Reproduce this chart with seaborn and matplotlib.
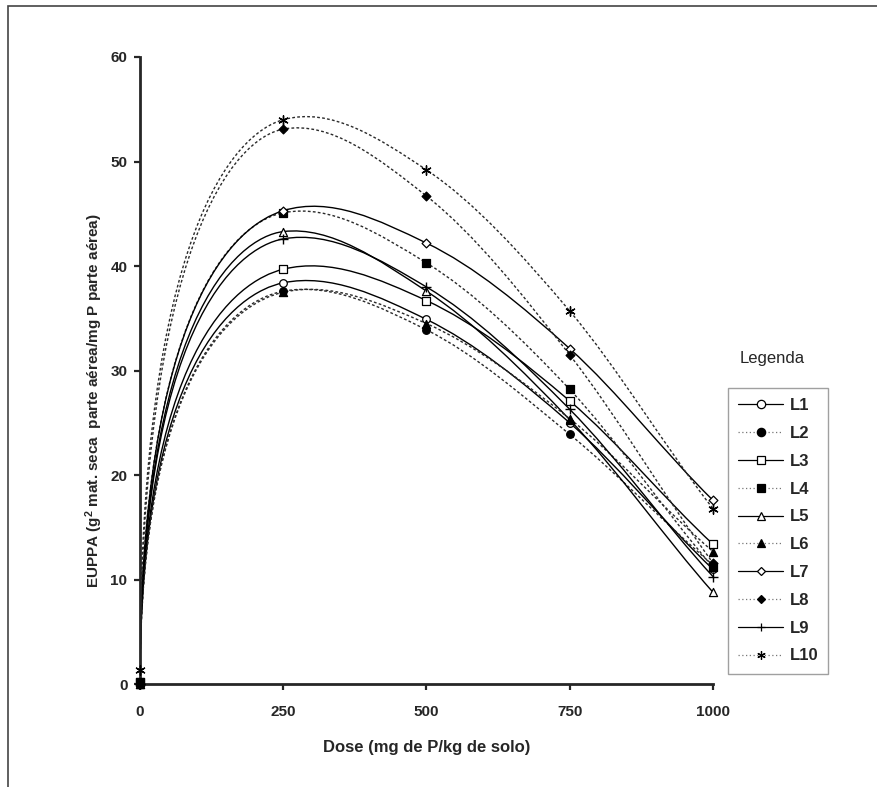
import numpy as np
import seaborn as sns
import matplotlib
matplotlib.use("Agg")
import matplotlib.pyplot as plt
from matplotlib.path import Path
from matplotlib.patches import PathPatch, Rectangle
from matplotlib.lines import Line2D

# %% dados

doses = [0, 250, 500, 750, 1000]
linhas = ['L1', 'L2', 'L3', 'L4', 'L5', 'L6', 'L7', 'L8', 'L9', 'L10']

L1 = [0.0, 38.4, 34.9, 25.0, 11.0]
L2 = [0.0, 37.6, 33.9, 23.9, 11.4]
L3 = [0.2, 39.7, 36.7, 27.1, 13.4]
L4 = [0.2, 45.1, 40.3, 28.2, 11.2]
L5 = [0.0, 43.3, 37.6, 25.3, 8.8]
L6 = [0.0, 37.5, 34.5, 25.4, 12.7]
L7 = [0.0, 45.3, 42.2, 32.1, 17.6]
L8 = [0.0, 53.1, 46.7, 31.5, 11.6]
L9 = [0.0, 42.6, 38.0, 26.3, 10.3]
L10 = [1.4, 54.0, 49.2, 35.7, 16.8]

valores = [L1, L2, L3, L4, L5, L6, L7, L8, L9, L10]

# %% estilos

marcadores = ['o', 'o', 's', 's', '^', '^', 'D', 'D', '+', (6, 2, 0)]
preenchido = [False, True, False, True, False, True, False, True, None, None]
tamanhos = [30, 30, 34, 34, 34, 34, 20, 20, 55, 45]


def caminho_suave(x, y, k=0.8, w=0.15):
    # curva suave tipo excel (bezier), primeiro trecho sobe vertical
    x = np.asarray(x, float)
    y = np.asarray(y, float)
    n = len(x)
    s = np.diff(y) / np.diff(x)
    m = np.zeros(n)
    m[1] = w * s[0] + (1 - w) * s[1]
    for i in range(2, n - 1):
        m[i] = (y[i + 1] - y[i - 1]) / (x[i + 1] - x[i - 1])
    m[-1] = 0.5 * (s[-1] + m[-2])
    h = x[1] - x[0]
    verts = [(x[0], y[0]), (x[0], y[0] + k * (y[1] - y[0])),
             (x[1] - h / 3, y[1] - m[1] * h / 3), (x[1], y[1])]
    for i in range(1, n - 1):
        h = x[i + 1] - x[i]
        verts += [(x[i] + h / 3, y[i] + m[i] * h / 3),
                  (x[i + 1] - h / 3, y[i + 1] - m[i + 1] * h / 3),
                  (x[i + 1], y[i + 1])]
    codes = [Path.MOVETO] + [Path.CURVE4] * (len(verts) - 1)
    return Path(verts, codes)


# %% grafico

sns.set_style('ticks')
plt.rcParams['font.family'] = ['Liberation Sans', 'DejaVu Sans']
plt.rcParams['mathtext.fontset'] = 'custom'
plt.rcParams['mathtext.bf'] = 'Liberation Sans:bold'
plt.rcParams['mathtext.default'] = 'bf'

fig = plt.figure(figsize=(8.77, 7.87), dpi=100)
ax = fig.add_axes([0.1596, 0.1305, 0.6534, 0.7971])

for i, (nome, vals) in enumerate(zip(linhas, valores)):
    solida = (i % 2 == 0)
    estilo = '-' if solida else (0, (2, 1.6))
    cor = 'black' if solida else '#2a2a2a'
    ax.add_patch(PathPatch(caminho_suave(doses, vals), fill=False,
                           edgecolor=cor, linewidth=1.0, linestyle=estilo,
                           zorder=2))
    if preenchido[i] is None:
        sns.scatterplot(x=doses, y=vals, marker=marcadores[i], s=tamanhos[i],
                        color='black', linewidth=1.0, ax=ax, zorder=4,
                        legend=False, clip_on=False)
    else:
        sns.scatterplot(x=doses, y=vals, marker=marcadores[i], s=tamanhos[i],
                        color='black' if preenchido[i] else 'white',
                        edgecolor='black', linewidth=0.9, ax=ax, zorder=4,
                        legend=False, clip_on=False)

ax.set_xlim(0, 1000)
ax.set_ylim(0, 60)
ax.set_xticks(doses)
ax.set_yticks([0, 10, 20, 30, 40, 50, 60])
sns.despine(ax=ax)
for lado in ['left', 'bottom']:
    ax.spines[lado].set_linewidth(2.0)
ax.tick_params(axis='both', direction='out', length=4, width=1.6,
               labelsize=11)
ax.tick_params(axis='x', pad=11)
ax.tick_params(axis='y', pad=5)
for t in ax.get_xticklabels() + ax.get_yticklabels():
    t.set_fontweight('bold')

ax.set_xlabel('Dose (mg de P/kg de solo)', fontsize=12, fontweight='bold')
ax.xaxis.set_label_coords(0.5, -0.088)
ax.set_ylabel(r'EUPPA (g$^{2}$ mat. seca  parte aérea/mg P parte aérea)',
              fontsize=11, fontweight='bold')
ax.yaxis.set_label_coords(-0.061, 0.452)

# legenda
handles = []
for i, nome in enumerate(linhas):
    solida = (i % 2 == 0)
    if preenchido[i] is None:
        fc = 'black'
    else:
        fc = 'black' if preenchido[i] else 'white'
    handles.append(Line2D([0], [0], color='black' if solida else '#777777',
                          linestyle='-' if solida else (0, (1, 2)),
                          linewidth=0.9, marker=marcadores[i],
                          markersize=6 if marcadores[i] != 'D' else 4.5,
                          markerfacecolor=fc, markeredgecolor='black',
                          markeredgewidth=0.9, label=nome))
leg = fig.legend(handles=handles, loc='upper left',
                 bbox_to_anchor=(728 / 877, 1 - 388 / 787),
                 frameon=True, fancybox=False, edgecolor='#888888',
                 prop={'weight': 'bold', 'size': 12}, handlelength=2.7,
                 labelspacing=0.77, borderpad=0.6, handletextpad=0.4,
                 borderaxespad=0)
leg.get_frame().set_linewidth(1.0)
fig.text(772 / 877, 1 - 358 / 787, 'Legenda', ha='center', va='center',
         fontsize=12)

# moldura
fig.patches.append(Rectangle((8 / 877, -0.1), 1.2, 1.1 - 6 / 787,
                             transform=fig.transFigure, fill=False,
                             edgecolor='#444444', linewidth=1.2))

fig.savefig('out.png', dpi=100)
